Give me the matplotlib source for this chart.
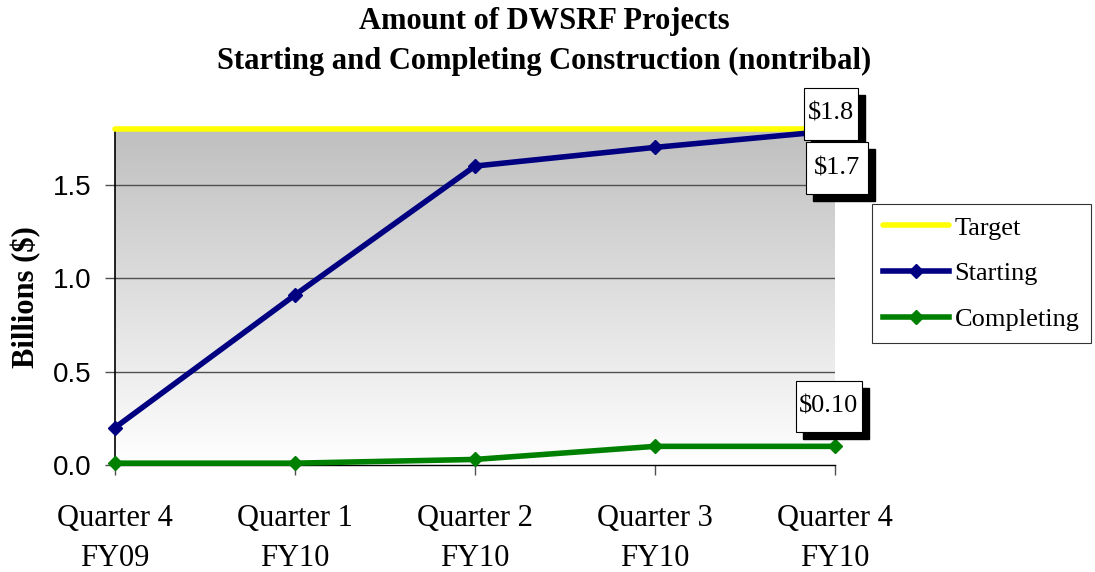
import matplotlib
matplotlib.use("Agg")
import matplotlib.pyplot as plt
import numpy as np
from matplotlib.patches import Rectangle
from matplotlib.colors import LinearSegmentedColormap

categories = ["Quarter 4\nFY09", "Quarter 1\nFY10", "Quarter 2\nFY10", "Quarter 3\nFY10", "Quarter 4\nFY10"]
target = [1.8, 1.8, 1.8, 1.8, 1.8]
starting = [0.2, 0.91, 1.6, 1.7, 1.79]
completing = [0.01, 0.01, 0.03, 0.10, 0.10]
yticks = [0.0, 0.5, 1.0, 1.5]
ytick_labels = ["0.0", "0.5", "1.0", "1.5"]
value_labels = [  # (x index, value, text)
    (4, 1.79, "$1.8"),
    (4, 1.70, "$1.7"),
    (4, 0.10, "$0.10"),
]

serif = "Liberation Serif"
sans = "Liberation Sans"

fig = plt.figure(figsize=(10.95, 5.72), dpi=100)
ax = fig.add_axes([0.105, 0.187, 0.6575, 0.588])
x = np.arange(len(categories))

# gradient background
grad = np.linspace(0, 1, 256).reshape(-1, 1)
cmap = LinearSegmentedColormap.from_list("g", ["#ffffff", "#bfbfbf"])
ax.imshow(grad, extent=[0, 4, 0, 1.8], origin="lower", aspect="auto", cmap=cmap, zorder=0)

for yv in [0.5, 1.0, 1.5]:
    ax.axhline(yv, color="#505050", lw=1.0, zorder=1)

ax.plot(x, target, color="#ffff00", lw=4, solid_capstyle="round", zorder=3, label="Target", clip_on=False)
ax.plot(x, starting, color="#000080", lw=4, marker="D", ms=7, zorder=4, label="Starting", clip_on=False)
ax.plot(x, completing, color="#008000", lw=4, marker="D", ms=7, zorder=4, label="Completing", clip_on=False)

ax.set_xlim(0, 4)
ax.set_ylim(0, 1.8)
ax.set_xticks(x)
ax.set_xticklabels(categories, fontfamily=serif, fontsize=22, linespacing=1.5)
ax.tick_params(axis="x", length=7, width=1, direction="out", pad=21, color="#505050")
ax.set_yticks(yticks)
ax.set_yticklabels(ytick_labels, fontfamily=sans, fontsize=20)
ax.tick_params(axis="y", length=7, width=1, direction="out", pad=10, color="#505050")
for s in ["top", "right"]:
    ax.spines[s].set_visible(False)
ax.spines["left"].set_linewidth(1.2)
ax.spines["bottom"].set_linewidth(1.0)
ax.set_ylabel("Billions ($)", fontfamily=serif, fontsize=22, fontweight="bold", labelpad=8)

fig.text(0.497, 0.963, "Amount of DWSRF Projects", ha="center", va="center",
         fontfamily=serif, fontsize=22, fontweight="bold")
fig.text(0.497, 0.893, "Starting and Completing Construction (nontribal)", ha="center", va="center",
         fontfamily=serif, fontsize=22, fontweight="bold")

# value labels with drop shadows (box offsets in pixels from the data point)
offsets = [(-4, 17, 54, 52), (2, -21, 62, 52), (-6, 40, 66, 51)]
fig.canvas.draw()
for (xi, val, txt), (dx, dy, w, h) in zip(value_labels, offsets):
    px, py = ax.transData.transform((xi, val))
    cx, cy = px + dx, py + dy
    sh = Rectangle((cx - w / 2 + 7, cy - h / 2 - 7), w, h, transform=None,
                   fc="black", ec="black", zorder=6, clip_on=False)
    bx = Rectangle((cx - w / 2, cy - h / 2), w, h, transform=None,
                   fc="white", ec="black", lw=0.8, zorder=7, clip_on=False)
    fig.add_artist(sh)
    fig.add_artist(bx)
    fig.text(cx / fig.bbox.width, cy / fig.bbox.height, txt, ha="center", va="center",
             fontfamily=serif, fontsize=19, zorder=8)

leg = fig.legend(loc="upper left", bbox_to_anchor=(0.796, 0.643), prop={"family": serif, "size": 19},
                 frameon=True, fancybox=False, edgecolor="black", handlelength=2.5,
                 labelspacing=0.85, borderpad=0.45, handletextpad=0.2, borderaxespad=0)
leg.get_frame().set_linewidth(0.8)

fig.savefig("out.png", dpi=100)
